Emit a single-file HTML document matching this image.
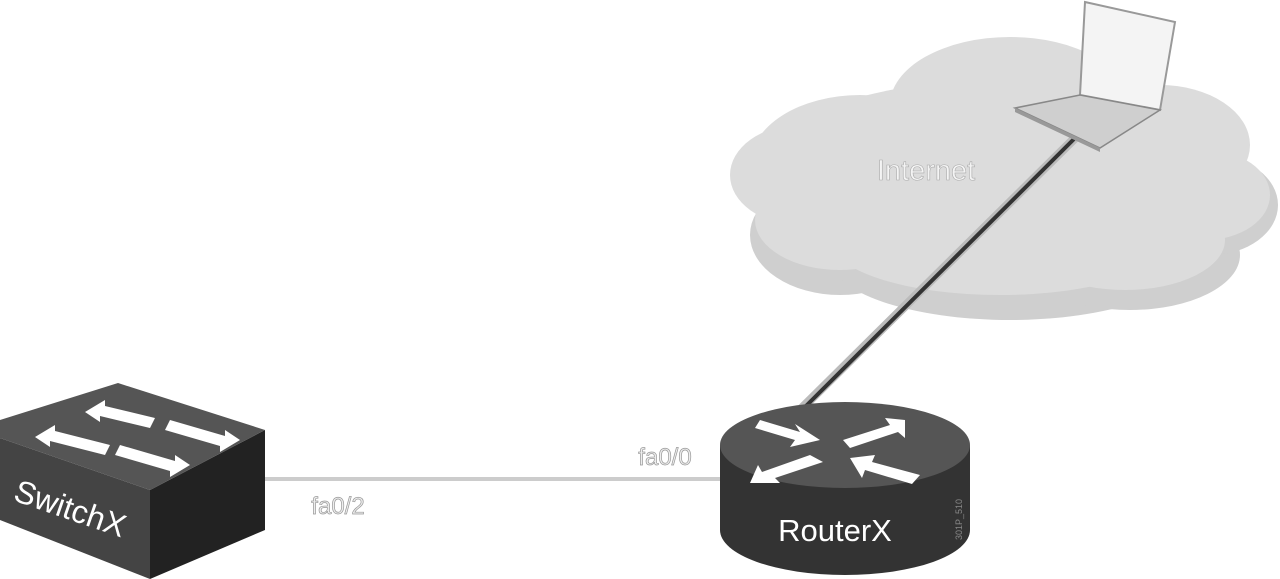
<!DOCTYPE html>
<html><head><style>html,body{margin:0;padding:0;background:#fff;}svg{display:block}</style></head>
<body>
<svg width="1280" height="579" viewBox="0 0 1280 579" xmlns="http://www.w3.org/2000/svg" font-family="Liberation Sans, sans-serif">
<!-- cloud -->
<g fill="#cfcfcf">
<ellipse cx="1000" cy="190" rx="250" ry="100"/>
<ellipse cx="840" cy="235" rx="90" ry="60"/>
<ellipse cx="1010" cy="258" rx="180" ry="62"/>
<ellipse cx="1130" cy="255" rx="110" ry="55"/>
<ellipse cx="1210" cy="205" rx="68" ry="50"/>
</g>
<g fill="#dcdcdc">
<ellipse cx="1000" cy="175" rx="245" ry="95"/>
<ellipse cx="860" cy="165" rx="110" ry="70"/>
<ellipse cx="1010" cy="105" rx="120" ry="68"/>
<ellipse cx="1160" cy="145" rx="90" ry="60"/>
<ellipse cx="1205" cy="195" rx="65" ry="45"/>
<ellipse cx="800" cy="175" rx="70" ry="50"/>
<ellipse cx="1000" cy="240" rx="170" ry="55"/>
<ellipse cx="1125" cy="240" rx="100" ry="50"/>
<ellipse cx="840" cy="220" rx="85" ry="50"/>
</g>
<text x="926" y="180" font-size="29" fill="#f4f4f4" stroke="#aaa" stroke-width="0.6" text-anchor="middle">Internet</text>
<!-- link laptop-router -->
<line x1="1078" y1="135" x2="795" y2="415" stroke="#bbb" stroke-width="9"/>
<line x1="1078" y1="135" x2="800" y2="412" stroke="#333" stroke-width="4"/>
<!-- laptop -->
<polygon points="1085,2 1175,22 1160,110 1080,95" fill="#f4f4f4" stroke="#999" stroke-width="2"/>
<polygon points="1015,108 1080,95 1160,110 1100,148" fill="#cfcfcf" stroke="#888" stroke-width="1.5"/>
<polygon points="1015,108 1100,148 1100,152 1015,112" fill="#999"/>
<!-- link switch-router -->
<line x1="262" y1="479" x2="725" y2="479" stroke="#ccc" stroke-width="4"/>
<text x="338" y="514" font-size="24" fill="#eee" stroke="#999" stroke-width="0.7" text-anchor="middle">fa0/2</text>
<text x="665" y="465" font-size="24" fill="#eee" stroke="#999" stroke-width="0.7" text-anchor="middle">fa0/0</text>
<!-- switch -->
<polygon points="0,438 150,490 150,579 0,520" fill="#444"/>
<polygon points="150,490 265,430 265,530 150,579" fill="#222"/>
<polygon points="0,420 118,383 265,430 150,490 0,438" fill="#555"/>
<g fill="#fff">
<polygon points="85,412 105,400 105,406 155,418 150,428 100,416 100,422"/>
<polygon points="35,437 55,425 55,431 110,445 105,455 50,441 50,447"/>
<polygon points="240,440 220,452 220,446 165,430 170,420 225,436 225,430"/>
<polygon points="190,465 170,477 170,471 115,455 120,445 175,461 175,455"/>
</g>
<text transform="translate(12,500) rotate(19)" font-size="32" fill="#fff">SwitchX</text>
<!-- router -->
<path d="M720,445 L720,530 A125,45 0 0 0 970,530 L970,445 Z" fill="#333"/>
<ellipse cx="845" cy="445" rx="125" ry="43" fill="#555"/>
<g fill="#fff">
<polygon points="760,420 800,432 795,424 820,440 790,447 795,440 755,428"/>
<polygon points="905,420 905,438 898,432 850,448 843,440 890,425 885,418"/>
<polygon points="750,483 758,465 762,472 810,455 823,462 775,478 780,483"/>
<polygon points="850,458 875,455 872,462 920,475 912,484 865,470 862,478"/>
</g>
<text x="835" y="541" font-size="31" fill="#fff" text-anchor="middle">RouterX</text>
<text transform="translate(962,540) rotate(-90)" font-size="9" fill="#888">301P_510</text>
</svg>
</body></html>
